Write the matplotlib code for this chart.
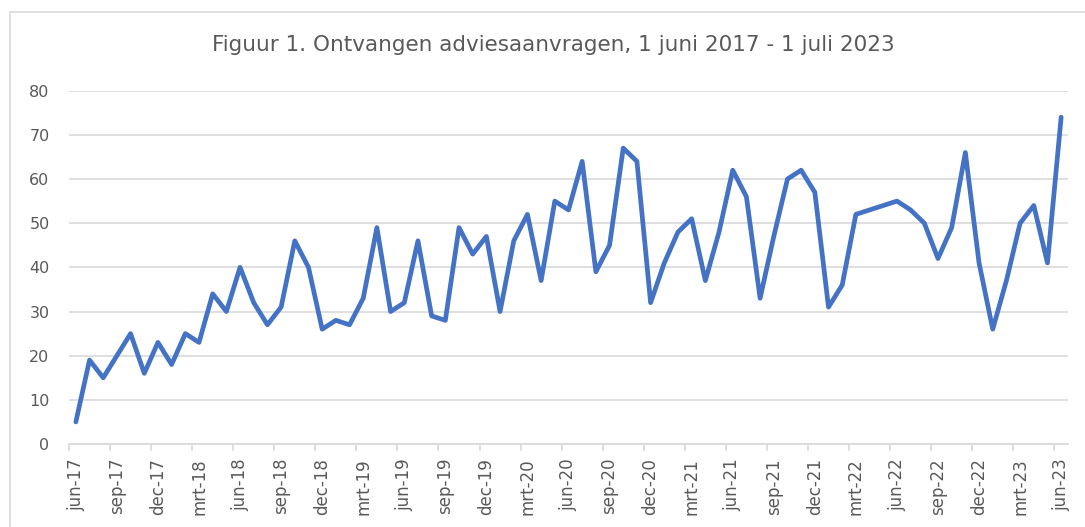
import matplotlib
matplotlib.use("Agg")
import matplotlib.pyplot as plt
from matplotlib.patches import Rectangle
from matplotlib.ticker import FixedLocator

title = "Figuur 1. Ontvangen adviesaanvragen, 1 juni 2017 - 1 juli 2023"

month_names = ["jan", "feb", "mrt", "apr", "mei", "jun", "jul", "aug", "sep", "okt", "nov", "dec"]

values = [5, 19, 15, 20, 25, 16, 23, 18, 25, 23, 34, 30,
          40, 32, 27, 31, 46, 40, 26, 28, 27, 33, 49, 30,
          32, 46, 29, 28, 49, 43, 47, 30, 46, 52, 37, 55,
          53, 64, 39, 45, 67, 64, 32, 41, 48, 51, 37, 48,
          62, 56, 33, 47, 60, 62, 57, 31, 36, 52, 53, 54,
          55, 53, 50, 42, 49, 66, 41, 26, 37, 50, 54, 41,
          74]

# month labels starting jun-2017
labels = []
for i in range(len(values)):
    m = (5 + i) % 12
    y = 2017 + (5 + i) // 12
    labels.append(f"{month_names[m]}-{y % 100:02d}")

yticks = [0, 10, 20, 30, 40, 50, 60, 70, 80]

grey_text = "#595959"
grid_col = "#d9d9d9"
line_col = "#4472C4"

fig = plt.figure(figsize=(10.85, 5.27), dpi=100)
fig.patch.set_facecolor("white")

# outer chart border
fig.add_artist(Rectangle((9.5 / 1085, -0.1), 1.2, 1 - 12 / 527 + 0.1,
                         transform=fig.transFigure, fill=False,
                         edgecolor=grid_col, linewidth=1.2))

ax = fig.add_axes([69 / 1085, 1 - 444 / 527, (1068 - 69) / 1085, (444 - 90.7) / 527])

x = list(range(len(values)))
ax.plot(x, values, color=line_col, linewidth=3.4,
        solid_joinstyle="round", solid_capstyle="round", clip_on=False, zorder=3)

ax.set_xlim(-0.5, len(values) - 0.5)
ax.set_ylim(0, 80)

ax.set_yticks(yticks)
ax.set_yticklabels([str(v) for v in yticks])
ax.yaxis.grid(True, color=grid_col, linewidth=1.2)
ax.set_axisbelow(True)

major = list(range(0, len(values), 3))
ax.xaxis.set_major_locator(FixedLocator(major))
ax.set_xticklabels([labels[i] for i in major], rotation=90)
ax.xaxis.set_minor_locator(FixedLocator([i - 0.5 for i in major]))

ax.tick_params(axis="x", which="major", length=0, pad=10, labelsize=12, labelcolor=grey_text)
ax.tick_params(axis="x", which="minor", length=5, width=1.2, color=grid_col)
ax.tick_params(axis="y", length=0, pad=14, labelsize=11.5, labelcolor=grey_text)

for s in ["top", "right", "left"]:
    ax.spines[s].set_visible(False)
ax.spines["bottom"].set_color(grid_col)
ax.spines["bottom"].set_linewidth(1.2)

fig.text(553 / 1085, 1 - 45 / 527, title, ha="center", va="center",
         fontsize=15.5, color=grey_text)

fig.savefig("out.png", dpi=100)
